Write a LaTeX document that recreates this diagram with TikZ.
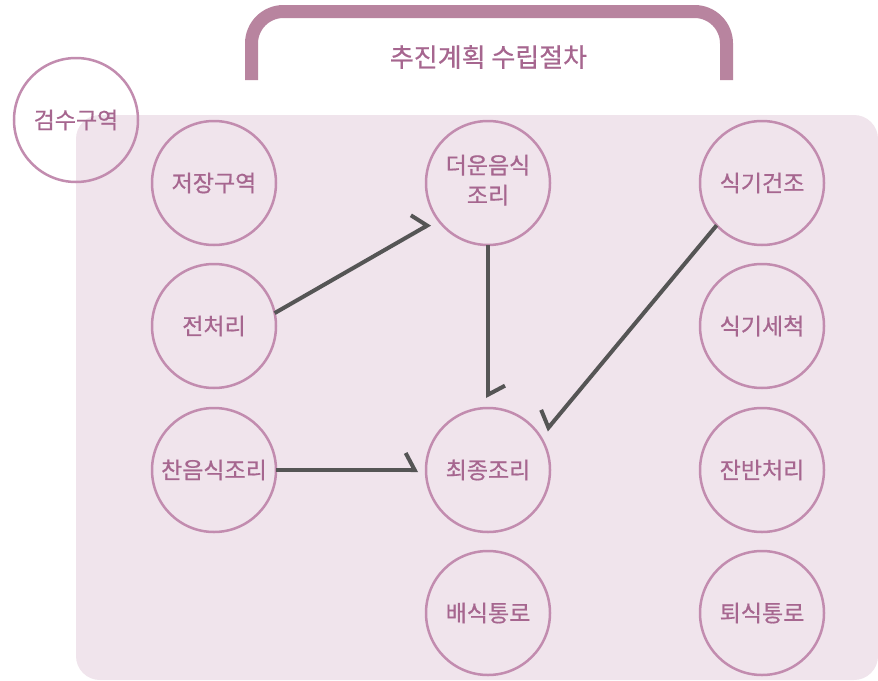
\documentclass[tikz,border=0pt]{standalone}
\usepackage{fontspec}
\newfontfamily\kr[FakeBold=0.6]{Noto Sans CJK KR}
\usetikzlibrary{arrows.meta}
\definecolor{bgpink}{HTML}{F0E4EC}
\definecolor{ringc}{HTML}{C28CAF}
\definecolor{txtc}{HTML}{A6668F}
\definecolor{brk}{HTML}{B8849F}
\definecolor{arr}{HTML}{555555}
\tikzset{
  room/.style={circle, draw=ringc, line width=2.5pt, minimum size=124pt, inner sep=0pt, outer sep=0pt,
    font=\kr\fontsize{23pt}{29pt}\selectfont, text=txtc, align=center},
  flow/.style={draw=arr, line width=4pt, -{Straight Barb[harpoon, length=9pt, width=34pt]}},
  flowr/.style={draw=arr, line width=4pt, -{Straight Barb[harpoon, swap, length=9pt, width=34pt]}}
}
\begin{document}
\begin{tikzpicture}[x=1pt, y=-1pt]
\useasboundingbox (0,0) rectangle (878,680);
\fill[white] (0,0) rectangle (878,680);
\fill[bgpink, rounded corners=24pt] (76,115) rectangle (878,680);
\draw[brk, line width=13pt, rounded corners=32pt] (251.5,80) -- (251.5,11.5) -- (726.5,11.5) -- (726.5,80);
\node[font=\kr\fontsize{26pt}{30pt}\selectfont, text=txtc] (title) at (488.5,57) {추진계획 수립절차};
\node[room] (gs) at (76,120) {검수구역};
\node[room] (jj) at (214,183) {저장구역};
\node[room] (jc) at (214,326) {전처리};
\node[room] (cu) at (214,470) {찬음식조리};
\node[room] (du) at (488,183) {\raisebox{-5pt}{\begin{tabular}{@{}c@{}}더운음식\\[1pt]조리\end{tabular}}};
\node[room] (cj) at (488,470) {최종조리};
\node[room] (bs) at (488,613) {배식통로};
\node[room] (sg) at (762,183) {식기건조};
\node[room] (ss) at (762,326) {식기세척};
\node[room] (jb) at (762,470) {잔반처리};
\node[room] (ts) at (762,613) {퇴식통로};
\draw[flow, shorten >=9pt] (jc.12.7) -- (du.216.4);
\draw[flow, shorten >=10pt] (du.south) -- (cj.north);
\draw[flowr, shorten >=9pt] (sg.223) -- (cj.32.3);
\draw[flow, shorten >=8pt] (cu.east) -- (cj.west);
\end{tikzpicture}
\end{document}
